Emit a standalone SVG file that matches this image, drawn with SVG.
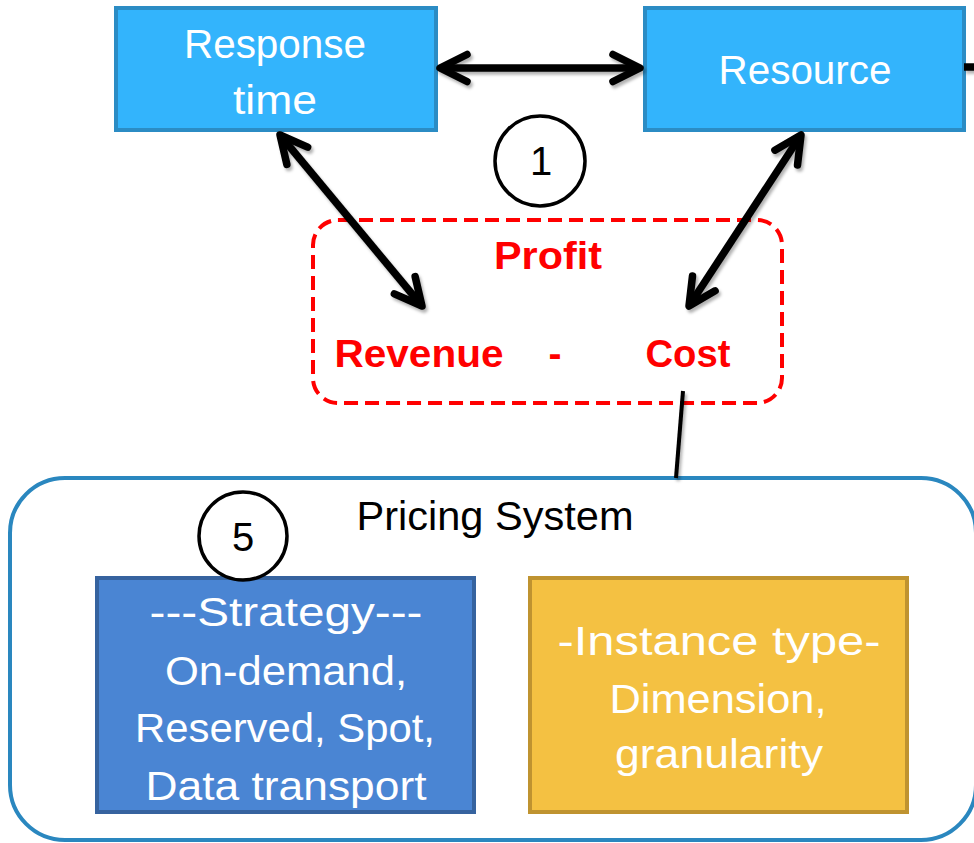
<svg xmlns="http://www.w3.org/2000/svg" width="974" height="843" viewBox="0 0 974 843">
  <style>
    .t { font-family: "Liberation Sans", Arial, sans-serif; font-size: 40px; text-anchor: middle; }
    .w { fill: #ffffff; }
    .k { fill: #000000; }
    .r { fill: #ff0000; font-weight: bold; font-size: 39px; }
    .lb { fill: #33b4fc; stroke: #2b8cc4; stroke-width: 4; }
    .circ { fill: #ffffff; stroke: #000000; stroke-width: 3.5; }
    .conn { fill: none; stroke: #000000; stroke-width: 7.5; }
  </style>
  <defs>
    <marker id="chev" markerUnits="userSpaceOnUse" viewBox="-38 -24 52 48" markerWidth="52" markerHeight="48" refX="0" refY="0" orient="auto-start-reverse" overflow="visible">
      <path d="M-27,-13.5 L0,0 L-27,13.5" fill="none" stroke="#000000" stroke-width="7.5" stroke-linecap="round" stroke-linejoin="round"/>
    </marker>
    <filter id="sh" x="-20%" y="-20%" width="140%" height="140%">
      <feDropShadow dx="2" dy="3" stdDeviation="1.5" flood-color="#000000" flood-opacity="0.3"/>
    </filter>
  </defs>
  <rect width="974" height="843" fill="#ffffff"/>

  <g id="pricing-system">
    <rect x="10" y="478" width="966" height="362" rx="55" ry="55" fill="#ffffff" stroke="#2a87bf" stroke-width="4"/>
    <text class="t k" x="495" y="530" textLength="277" lengthAdjust="spacingAndGlyphs">Pricing System</text>
  </g>

  <g id="response-time">
    <rect class="lb" x="116" y="8" width="320" height="122"/>
    <text class="t w" x="275" y="58" textLength="182" lengthAdjust="spacingAndGlyphs">Response</text>
    <text class="t w" x="275" y="114" textLength="84" lengthAdjust="spacingAndGlyphs">time</text>
  </g>

  <g id="resource">
    <rect class="lb" x="645" y="8" width="319" height="122"/>
    <text class="t w" x="805" y="84" textLength="173" lengthAdjust="spacingAndGlyphs">Resource</text>
  </g>

  <g id="circle-1">
    <circle class="circ" cx="540" cy="161" r="45"/>
    <text class="t k" x="541" y="175">1</text>
  </g>

  <g id="profit">
    <rect x="313" y="220" width="469" height="183" rx="25" ry="25" fill="none" stroke="#ff0000" stroke-width="4" stroke-dasharray="14 7"/>
    <text class="t r" x="548" y="269" textLength="108" lengthAdjust="spacingAndGlyphs">Profit</text>
    <text class="t r" x="419" y="367" textLength="169" lengthAdjust="spacingAndGlyphs">Revenue</text>
    <text class="t r" x="555" y="367">-</text>
    <text class="t r" x="688" y="367" textLength="85" lengthAdjust="spacingAndGlyphs">Cost</text>
  </g>

  <g id="strategy">
    <rect x="97" y="578" width="377" height="234" fill="#4a85d3" stroke="#36639f" stroke-width="4"/>
    <text class="t w" x="286" y="626" textLength="273" lengthAdjust="spacingAndGlyphs">---Strategy---</text>
    <text class="t w" x="286" y="685" textLength="242" lengthAdjust="spacingAndGlyphs">On-demand,</text>
    <text class="t w" x="285" y="742" textLength="300" lengthAdjust="spacingAndGlyphs">Reserved, Spot,</text>
    <text class="t w" x="286" y="800" textLength="281" lengthAdjust="spacingAndGlyphs">Data transport</text>
  </g>

  <g id="instance-type">
    <rect x="530" y="578" width="377" height="234" fill="#f4c142" stroke="#bf9330" stroke-width="4"/>
    <text class="t w" x="719" y="655" textLength="323" lengthAdjust="spacingAndGlyphs">-Instance type-</text>
    <text class="t w" x="718" y="713" textLength="217" lengthAdjust="spacingAndGlyphs">Dimension,</text>
    <text class="t w" x="719" y="768" textLength="208" lengthAdjust="spacingAndGlyphs">granularity</text>
  </g>

  <g id="circle-5">
    <circle class="circ" cx="243" cy="536" r="44"/>
    <text class="t k" x="243" y="551">5</text>
  </g>

  <g id="connectors" filter="url(#sh)">
    <line class="conn" x1="440" y1="68" x2="640" y2="68" marker-start="url(#chev)" marker-end="url(#chev)"/>
    <line class="conn" x1="280" y1="135" x2="422" y2="306" marker-start="url(#chev)" marker-end="url(#chev)"/>
    <line class="conn" x1="801" y1="135" x2="689" y2="306" marker-start="url(#chev)" marker-end="url(#chev)"/>
    <line x1="683" y1="391" x2="676" y2="478" stroke="#000000" stroke-width="4"/>
    <line class="conn" x1="964" y1="67" x2="980" y2="67"/>
  </g>
</svg>
